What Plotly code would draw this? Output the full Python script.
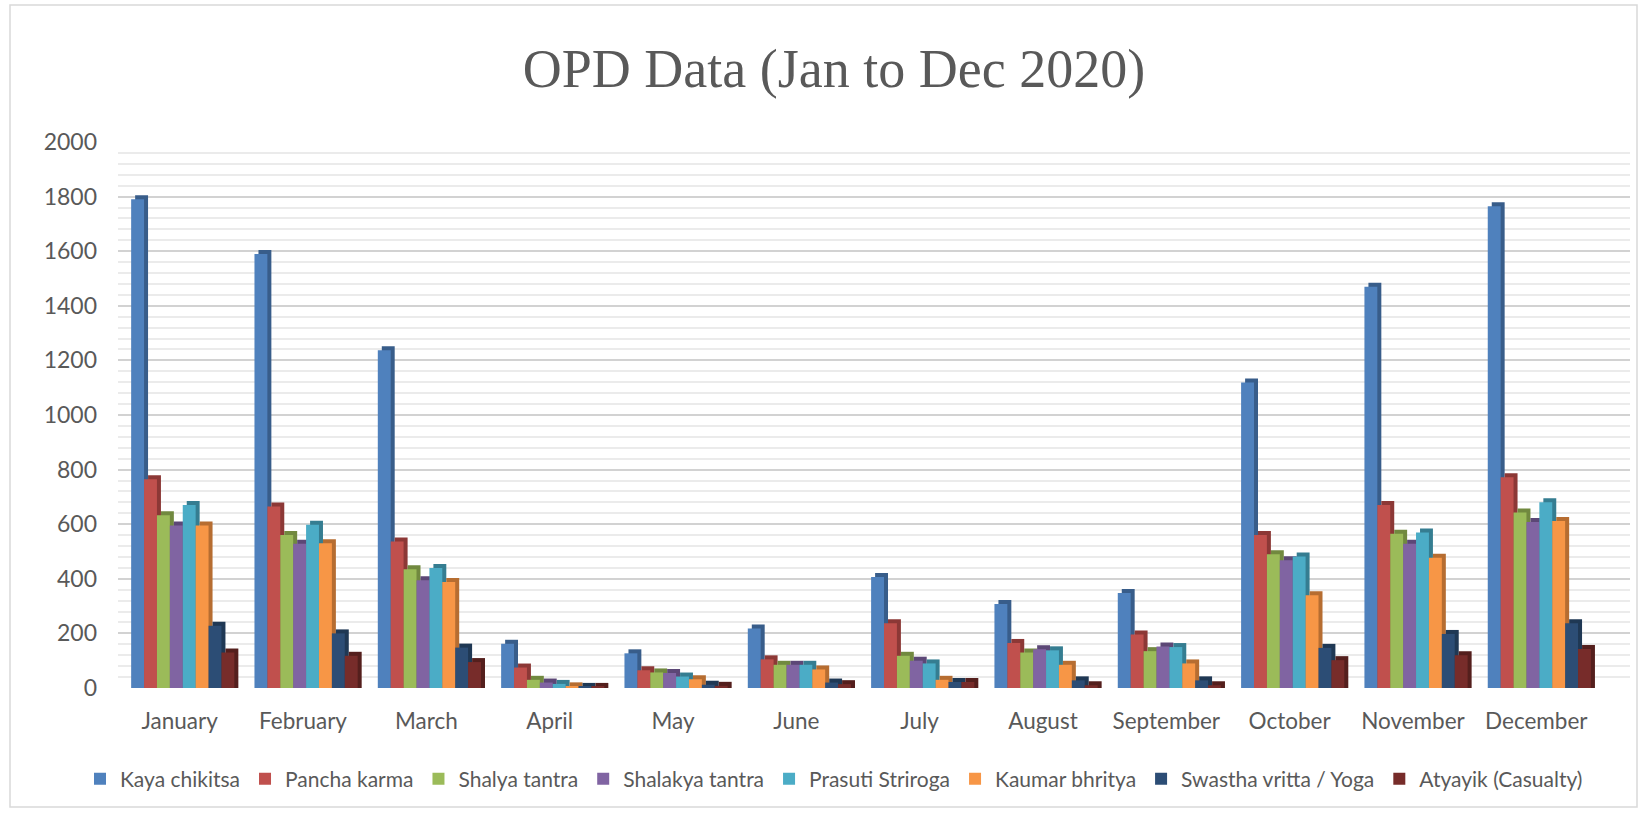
import plotly.graph_objects as go

months = ["January", "February", "March", "April", "May", "June", "July",
          "August", "September", "October", "November", "December"]

kaya_chikitsa = [1790, 1590, 1237, 162, 127, 218, 407, 308, 348, 1119, 1470, 1765]
pancha_karma = [765, 665, 537, 75, 65, 105, 237, 165, 196, 560, 670, 772]
shalya_tantra = [633, 560, 435, 30, 57, 85, 118, 130, 135, 490, 565, 643]
shalakya_tantra = [595, 528, 395, 20, 55, 85, 100, 142, 152, 468, 528, 608]
prasuti_striroga = [670, 598, 440, 15, 42, 85, 90, 138, 150, 482, 570, 680]
kaumar_bhritya = [595, 530, 388, 6, 32, 68, 30, 85, 90, 340, 477, 612]
swastha_vritta = [228, 200, 148, 4, 12, 20, 22, 28, 28, 147, 198, 237]
atyayik = [130, 118, 95, 4, 8, 14, 22, 10, 10, 102, 120, 143]

series_names = ["Kaya chikitsa", "Pancha karma", "Shalya tantra", "Shalakya tantra",
                "Prasuti Striroga", "Kaumar bhritya", "Swastha vritta / Yoga",
                "Atyayik (Casualty)"]
series_values = [kaya_chikitsa, pancha_karma, shalya_tantra, shalakya_tantra,
                 prasuti_striroga, kaumar_bhritya, swastha_vritta, atyayik]
front_colors = ["#4F81BD", "#C0504D", "#9BBB59", "#8064A2",
                "#4BACC6", "#F79646", "#2C4D75", "#772C2A"]
side_colors = ["#385D8A", "#8C3836", "#71893F", "#5C4776",
               "#357D91", "#B66D31", "#1F3854", "#541F1D"]

W, H = 1644, 813
L, R, T, B = 118, 14, 142, 125
plot_w = W - L - R
plot_h = H - T - B
x_range = [-0.5, 11.76]
y_range = [0, 2000]
units_per_px_x = (x_range[1] - x_range[0]) / plot_w
units_per_px_y = (y_range[1] - y_range[0]) / plot_h

bar_w = 0.1046
start = -4 * bar_w + 0.025
dx = 4 * units_per_px_x
dy = 4 * units_per_px_y

fig = go.Figure()

# 3D side/top faces (drawn first, behind front faces)
for i, (name, vals) in enumerate(zip(series_names, series_values)):
    fig.add_trace(go.Bar(
        x=months, y=[v + dy for v in vals],
        offset=start + i * bar_w + dx, width=bar_w,
        marker=dict(color=side_colors[i], line=dict(width=0)),
        showlegend=False, hoverinfo="skip",
    ))

# front faces
for i, (name, vals) in enumerate(zip(series_names, series_values)):
    fig.add_trace(go.Bar(
        x=months, y=vals, name=name,
        offset=start + i * bar_w, width=bar_w,
        marker=dict(color=front_colors[i], line=dict(width=0)),
    ))

def px_to_paper_x(px):
    return (px - L) / plot_w

def px_to_paper_y(py):
    return (H - B - py) / plot_h

fig.add_shape(type="rect", xref="paper", yref="paper",
              x0=px_to_paper_x(10), x1=px_to_paper_x(1637),
              y0=px_to_paper_y(807), y1=px_to_paper_y(5),
              line=dict(color="#D9D9D9", width=1.5), fillcolor="rgba(0,0,0,0)",
              layer="below")

fig.update_layout(
    width=W, height=H,
    margin=dict(l=L, r=R, t=T, b=B, pad=0),
    paper_bgcolor="white", plot_bgcolor="white",
    barmode="overlay",
    title=dict(text="OPD Data (Jan to Dec 2020)", x=834 / W, xanchor="center",
               y=1 - 68 / H, yanchor="middle",
               font=dict(family="Liberation Serif", size=54, color="#595959")),
    font=dict(family="Lato", size=21, color="#595959"),
    xaxis=dict(range=x_range, showgrid=False, zeroline=False, showline=False,
               ticks="", ticklabelstandoff=17,
               tickfont=dict(family="Lato", size=22.5, color="#595959")),
    yaxis=dict(range=y_range, dtick=200, showgrid=True, gridcolor="#D2D2D2",
               gridwidth=2, zeroline=False, showline=False, ticks="",
               ticklabelstandoff=20,
               tickfont=dict(family="Lato", size=23, color="#595959"),
               minor=dict(dtick=40, showgrid=True, gridcolor="#EBEBEB", gridwidth=2)),
    legend=dict(orientation="h", x=(834 - L) / plot_w, xanchor="center",
                y=px_to_paper_y(779), yanchor="middle",
                font=dict(family="Lato", size=21, color="#595959"),
                itemwidth=30, traceorder="normal"),
    hovermode=False,
)

fig.write_html("out.html",
               config={"displayModeBar": False},
               post_script="document.body.style.margin='0';document.body.style.overflow='hidden';")
